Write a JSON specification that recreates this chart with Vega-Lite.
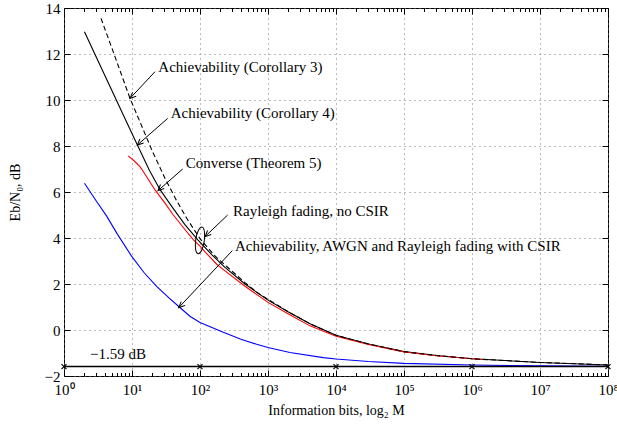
{
  "$schema": "https://vega.github.io/schema/vega-lite/v6.json",
  "width": 544,
  "height": 368,
  "autosize": "none",
  "padding": {"left": 64, "top": 8, "right": 9, "bottom": 48},
  "background": "white",
  "config": {
    "font": "Liberation Serif",
    "view": {"stroke": "black", "strokeWidth": 1},
    "axis": {"labelFont": "Liberation Serif", "titleFont": "Liberation Serif", "labelColor": "black", "titleColor": "black", "tickColor": "black", "labelFontSize": 15, "titleFontSize": 14, "titleFontWeight": "normal", "labelFlush": false, "labelOverlap": false}
  },
  "datasets": {
    "curves": [
      {"s": "cor4", "x": 2, "y": 12.97}, {"s": "cor4", "x": 3, "y": 11.85}, {"s": "cor4", "x": 5, "y": 10.45}, {"s": "cor4", "x": 8, "y": 9.15},
      {"s": "cor4", "x": 12, "y": 8.04}, {"s": "cor4", "x": 18, "y": 6.95}, {"s": "cor4", "x": 26, "y": 6.09}, {"s": "cor4", "x": 40, "y": 5.3},
      {"s": "cor4", "x": 60, "y": 4.58}, {"s": "cor4", "x": 93, "y": 3.92}, {"s": "cor4", "x": 150, "y": 3.27}, {"s": "cor4", "x": 233, "y": 2.72},
      {"s": "cor4", "x": 459, "y": 2.0}, {"s": "cor4", "x": 1000, "y": 1.3}, {"s": "cor4", "x": 2000, "y": 0.78}, {"s": "cor4", "x": 4150, "y": 0.27},
      {"s": "cor4", "x": 10000, "y": -0.23}, {"s": "cor4", "x": 30000, "y": -0.61}, {"s": "cor4", "x": 100000, "y": -0.94}, {"s": "cor4", "x": 300000, "y": -1.11},
      {"s": "cor4", "x": 1000000, "y": -1.25}, {"s": "cor4", "x": 10000000, "y": -1.41}, {"s": "cor4", "x": 100000000, "y": -1.52},
      {"s": "conv", "x": 8.8, "y": 7.57}, {"s": "conv", "x": 10.5, "y": 7.38}, {"s": "conv", "x": 13.1, "y": 7.1}, {"s": "conv", "x": 16, "y": 6.72},
      {"s": "conv", "x": 21.8, "y": 6.09}, {"s": "conv", "x": 30, "y": 5.55}, {"s": "conv", "x": 40, "y": 5.02}, {"s": "conv", "x": 60, "y": 4.37},
      {"s": "conv", "x": 80, "y": 3.92}, {"s": "conv", "x": 100, "y": 3.65}, {"s": "conv", "x": 120, "y": 3.38}, {"s": "conv", "x": 176, "y": 2.86},
      {"s": "conv", "x": 233, "y": 2.57}, {"s": "conv", "x": 459, "y": 1.9}, {"s": "conv", "x": 1000, "y": 1.2}, {"s": "conv", "x": 2000, "y": 0.7},
      {"s": "conv", "x": 4150, "y": 0.18}, {"s": "conv", "x": 10000, "y": -0.27}, {"s": "conv", "x": 30000, "y": -0.63}, {"s": "conv", "x": 100000, "y": -0.95},
      {"s": "conv", "x": 300000, "y": -1.12}, {"s": "conv", "x": 1000000, "y": -1.25}, {"s": "conv", "x": 1400000, "y": -1.28},
      {"s": "cor3", "x": 3.5, "y": 13.55}, {"s": "cor3", "x": 5, "y": 12.3}, {"s": "cor3", "x": 9.35, "y": 10.07}, {"s": "cor3", "x": 14.7, "y": 8.7},
      {"s": "cor3", "x": 20, "y": 7.76}, {"s": "cor3", "x": 30.6, "y": 6.59}, {"s": "cor3", "x": 45, "y": 5.64}, {"s": "cor3", "x": 63.7, "y": 4.86},
      {"s": "cor3", "x": 100, "y": 3.97}, {"s": "cor3", "x": 166, "y": 3.22}, {"s": "cor3", "x": 247, "y": 2.76}, {"s": "cor3", "x": 459, "y": 2.06},
      {"s": "cor3", "x": 700, "y": 1.62}, {"s": "cor3", "x": 1000, "y": 1.33}, {"s": "cor3", "x": 2000, "y": 0.79}, {"s": "cor3", "x": 4150, "y": 0.27},
      {"s": "cor3", "x": 10000, "y": -0.23}, {"s": "cor3", "x": 30000, "y": -0.61}, {"s": "cor3", "x": 100000, "y": -0.94}, {"s": "cor3", "x": 300000, "y": -1.11},
      {"s": "cor3", "x": 1000000, "y": -1.25}, {"s": "cor3", "x": 10000000, "y": -1.41}, {"s": "cor3", "x": 100000000, "y": -1.52},
      {"s": "awgn", "x": 2, "y": 6.38}, {"s": "awgn", "x": 3, "y": 5.6}, {"s": "awgn", "x": 4.24, "y": 4.95}, {"s": "awgn", "x": 6, "y": 4.2},
      {"s": "awgn", "x": 9.9, "y": 3.2}, {"s": "awgn", "x": 15, "y": 2.5}, {"s": "awgn", "x": 23, "y": 1.9}, {"s": "awgn", "x": 35, "y": 1.4},
      {"s": "awgn", "x": 49.6, "y": 1.0}, {"s": "awgn", "x": 71, "y": 0.6}, {"s": "awgn", "x": 100, "y": 0.33}, {"s": "awgn", "x": 220, "y": -0.1},
      {"s": "awgn", "x": 400, "y": -0.4}, {"s": "awgn", "x": 680, "y": -0.62}, {"s": "awgn", "x": 1000, "y": -0.76}, {"s": "awgn", "x": 2100, "y": -0.98},
      {"s": "awgn", "x": 6500, "y": -1.2}, {"s": "awgn", "x": 10000, "y": -1.26}, {"s": "awgn", "x": 30000, "y": -1.37}, {"s": "awgn", "x": 100000, "y": -1.45},
      {"s": "awgn", "x": 1000000, "y": -1.52}, {"s": "awgn", "x": 10000000, "y": -1.56}, {"s": "awgn", "x": 100000000, "y": -1.58},
      {"s": "asym", "x": 1, "y": -1.59}, {"s": "asym", "x": 100, "y": -1.59}, {"s": "asym", "x": 10000, "y": -1.59}, {"s": "asym", "x": 1000000, "y": -1.59}, {"s": "asym", "x": 100000000, "y": -1.59}
    ],
    "labels": [
      {"text": "Achievability (Corollary 3)", "x": 24.4, "y": 11.45},
      {"text": "Achievability (Corollary 4)", "x": 37.1, "y": 9.42},
      {"text": "Converse (Theorem 5)", "x": 61.6, "y": 7.25},
      {"text": "Rayleigh fading, no CSIR", "x": 306, "y": 5.17},
      {"text": "Achievability, AWGN and Rayleigh fading with CSIR", "x": 327, "y": 3.67},
      {"text": "−1.59 dB", "x": 2.41, "y": -1.03}
    ],
    "arrows": [
      {"x": 21.8, "y": 11.23, "x2": 9.35, "y2": 10.07},
      {"x": 33.5, "y": 9.2, "x2": 11.97, "y2": 8.04},
      {"x": 55.7, "y": 7.0, "x2": 24.1, "y2": 6.06},
      {"x": 255, "y": 5.0, "x2": 118.5, "y2": 4.06},
      {"x": 298.6, "y": 3.45, "x2": 48.6, "y2": 0.97}
    ],
    "ellipse": [{"x": 100, "y": 3.9}]
  },
  "resolve": {"axis": {"x": "independent", "y": "independent"}},
  "layer": [
    {
      "data": {"name": "curves"},
      "mark": {"type": "point", "opacity": 0},
      "encoding": {
        "x": {"field": "x", "type": "quantitative", "scale": {"type": "log", "domain": [1, 100000000]},
          "axis": {"orient": "bottom", "values": [1, 10, 100, 1000, 10000, 100000, 1000000, 10000000, 100000000],
            "labelExpr": "'10' + ['⁰','¹','²','³','⁴','⁵','⁶','⁷','⁸'][round(log(datum.value)/LN10)]",
            "grid": true, "gridDash": [1, 4], "gridColor": "#777", "gridWidth": 1, "domain": false, "tickSize": -6, "labelPadding": 12,
            "title": "Information bits, log₂ M", "titlePadding": 6}},
        "y": {"field": "y", "type": "quantitative", "scale": {"domain": [-2, 14], "nice": false, "zero": false},
          "axis": {"orient": "left", "values": [-2, 0, 2, 4, 6, 8, 10, 12, 14], "grid": true, "gridDash": [1, 4], "gridColor": "#777", "gridWidth": 1,
            "domain": false, "tickSize": -6, "labelPadding": 10, "title": "Eb/N₀, dB", "titlePadding": 22}}
      }
    },
    {
      "data": {"name": "curves"},
      "mark": {"type": "point", "opacity": 0},
      "encoding": {
        "x": {"field": "x", "type": "quantitative", "scale": {"type": "log", "domain": [1, 100000000]},
          "axis": {"orient": "top", "values": [1, 10, 100, 1000, 10000, 100000, 1000000, 10000000, 100000000], "labels": false, "grid": false, "domain": false, "tickSize": -6, "title": null}},
        "y": {"field": "y", "type": "quantitative", "scale": {"domain": [-2, 14], "nice": false, "zero": false},
          "axis": {"orient": "right", "values": [-2, 0, 2, 4, 6, 8, 10, 12, 14], "labels": false, "grid": false, "domain": false, "tickSize": -6, "title": null}}
      }
    },
    {
      "data": {"name": "curves"},
      "mark": {"type": "point", "opacity": 0},
      "encoding": {
        "x": {"field": "x", "type": "quantitative", "scale": {"type": "log", "domain": [1, 100000000]},
          "axis": {"orient": "bottom", "values": [2,3,4,5,6,7,8,9,20,30,40,50,60,70,80,90,200,300,400,500,600,700,800,900,2000,3000,4000,5000,6000,7000,8000,9000,20000,30000,40000,50000,60000,70000,80000,90000,200000,300000,400000,500000,600000,700000,800000,900000,2000000,3000000,4000000,5000000,6000000,7000000,8000000,9000000,20000000,30000000,40000000,50000000,60000000,70000000,80000000,90000000],
            "labels": false, "grid": false, "domain": false, "tickSize": -3.5, "title": null}},
        "y": {"field": "y", "type": "quantitative", "scale": {"domain": [-2, 14], "nice": false, "zero": false}, "axis": null}
      }
    },
    {
      "data": {"name": "curves"},
      "mark": {"type": "point", "opacity": 0},
      "encoding": {
        "x": {"field": "x", "type": "quantitative", "scale": {"type": "log", "domain": [1, 100000000]},
          "axis": {"orient": "top", "values": [2,3,4,5,6,7,8,9,20,30,40,50,60,70,80,90,200,300,400,500,600,700,800,900,2000,3000,4000,5000,6000,7000,8000,9000,20000,30000,40000,50000,60000,70000,80000,90000,200000,300000,400000,500000,600000,700000,800000,900000,2000000,3000000,4000000,5000000,6000000,7000000,8000000,9000000,20000000,30000000,40000000,50000000,60000000,70000000,80000000,90000000],
            "labels": false, "grid": false, "domain": false, "tickSize": -3.5, "title": null}},
        "y": {"field": "y", "type": "quantitative", "scale": {"domain": [-2, 14], "nice": false, "zero": false}, "axis": null}
      }
    },
    {
      "encoding": {
        "x": {"field": "x", "type": "quantitative", "scale": {"type": "log", "domain": [1, 100000000]}, "axis": null},
        "y": {"field": "y", "type": "quantitative", "scale": {"domain": [-2, 14], "nice": false, "zero": false}, "axis": null}
      },
      "layer": [
        {"data": {"name": "curves"}, "transform": [{"filter": "datum.s === 'awgn'"}], "mark": {"type": "line", "color": "#0000ff", "strokeWidth": 1.1}},
        {"data": {"name": "curves"}, "transform": [{"filter": "datum.s === 'cor4'"}], "mark": {"type": "line", "color": "black", "strokeWidth": 1.1}},
        {"data": {"name": "curves"}, "transform": [{"filter": "datum.s === 'conv'"}], "mark": {"type": "line", "color": "#ff0000", "strokeWidth": 1.1}},
        {"data": {"name": "curves"}, "transform": [{"filter": "datum.s === 'cor3'"}], "mark": {"type": "line", "color": "black", "strokeWidth": 1.1, "strokeDash": [5, 3]}},
        {"data": {"name": "curves"}, "transform": [{"filter": "datum.s === 'asym'"}], "mark": {"type": "line", "color": "black", "strokeWidth": 1.6}},
        {"data": {"name": "curves"}, "transform": [{"filter": "datum.s === 'asym'"}], "mark": {"type": "point", "shape": "M-1,-1L1,1M-1,1L1,-1", "size": 25, "filled": false, "color": "black", "strokeWidth": 1.2, "opacity": 1}},
        {"data": {"name": "arrows"}, "mark": {"type": "rule", "color": "black", "strokeWidth": 1}, "encoding": {"x2": {"field": "x2"}, "y2": {"field": "y2"}}},
        {"data": {"name": "arrows"}, "mark": {"type": "point", "shape": "M-0.45,1L0,0L0.45,1", "size": 144, "angle": 227, "filled": false, "color": "black", "strokeWidth": 1, "opacity": 1},
          "encoding": {"x": {"field": "x2", "type": "quantitative", "scale": {"type": "log", "domain": [1, 100000000]}, "axis": null}, "y": {"field": "y2", "type": "quantitative", "scale": {"domain": [-2, 14], "nice": false, "zero": false}, "axis": null}}},
        {"data": {"name": "ellipse"}, "mark": {"type": "point", "shape": "M0,-1A0.32,1 0 1,1 0,1A0.32,1 0 1,1 0,-1Z", "size": 729, "angle": 8, "filled": false, "color": "black", "strokeWidth": 1, "opacity": 1}},
        {"data": {"name": "labels"}, "mark": {"type": "text", "align": "left", "baseline": "middle", "font": "Liberation Serif", "fontSize": 15, "color": "black"}, "encoding": {"text": {"field": "text"}}}
      ]
    }
  ]
}
